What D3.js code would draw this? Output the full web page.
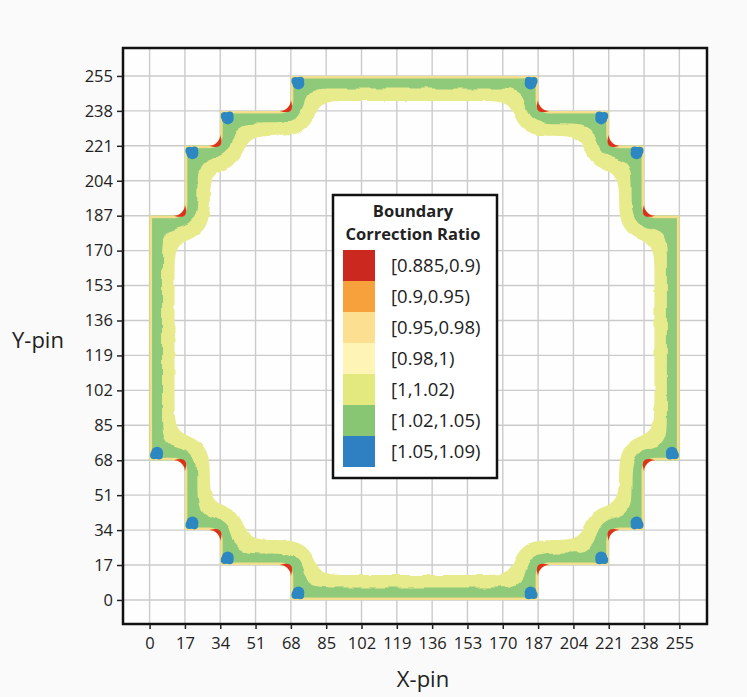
<!DOCTYPE html>
<html>
<head>
<meta charset="utf-8">
<title>Boundary Correction Ratio</title>
<style>
  body { margin: 0; background: #fafafa; font-family: "Open Sans", Arial, sans-serif; }
  svg text { fill: #222; }
</style>
</head>
<body>
<svg id="chart" width="747" height="697"></svg>
<script src="https://d3js.org/d3.v7.min.js"></script>
<script>
// tick values on both pin axes
const pinTicks = [0, 17, 34, 51, 68, 85, 102, 119, 136, 153, 170, 187, 204, 221, 238, 255];

// outer boundary of the pin array (x-pin, y-pin), walked clockwise from top-left
const outline = [
    [68, 255], [187, 255], [187, 238], [221, 238], [221, 221], [238, 221], [238, 187], [255, 187],
    [255, 68], [238, 68], [238, 34], [221, 34], [221, 17], [187, 17], [187, 0], [68, 0],
    [68, 17], [34, 17], [34, 34], [17, 34], [17, 68], [0, 68], [0, 187], [17, 187],
    [17, 221], [34, 221], [34, 238], [68, 238]
];

// corners with lowest ratio [0.885,0.9) (inner steps)
const lowCorners = [
    [17, 187], [34, 221], [68, 238], [187, 238], [221, 221], [238, 187],
    [238, 68], [221, 34], [187, 17], [68, 17], [34, 34], [17, 68]
];

// corners with highest ratio [1.05,1.09) (outer steps)
const highCorners = [
    [17, 221], [34, 238], [68, 255], [187, 255], [221, 238], [238, 221],
    [255, 68], [238, 34], [221, 17], [187, 0], [68, 0], [34, 17], [17, 34], [0, 68]
];

// depth of each band from the boundary, in pins
const greenDepth = 6;     // [1.02,1.05)
const yellowDepth = 12;   // [1,1.02)

const legendTitle = ['Boundary', 'Correction Ratio'];
const legendLabels = ['[0.885,0.9)', '[0.9,0.95)', '[0.95,0.98)', '[0.98,1)', '[1,1.02)', '[1.02,1.05)', '[1.05,1.09)'];
const legendColors = ['#cb2820', '#f6a13c', '#fddf92', '#fef4b6', '#e3e87f', '#88c674', '#2e80c2'];

const svg = d3.select('#chart');
const frame = { left: 123, top: 48, right: 707, bottom: 624 };

const x = d3.scaleLinear().domain([-12.8, 268.3]).range([frame.left, frame.right]);
const y = d3.scaleLinear().domain([-11.7, 268.6]).range([frame.bottom, frame.top]);
const pinPx = x(1) - x(0);

svg.append('rect')
    .attr('x', frame.left).attr('y', frame.top)
    .attr('width', frame.right - frame.left).attr('height', frame.bottom - frame.top)
    .attr('fill', '#fefefe');

// grid
svg.append('g').selectAll('line')
    .data(pinTicks).enter().append('line')
    .attr('x1', d => x(d)).attr('x2', d => x(d))
    .attr('y1', frame.top).attr('y2', frame.bottom)
    .attr('stroke', '#cbcbcb').attr('stroke-width', 1.4);
svg.append('g').selectAll('line')
    .data(pinTicks).enter().append('line')
    .attr('y1', d => y(d)).attr('y2', d => y(d))
    .attr('x1', frame.left).attr('x2', frame.right)
    .attr('stroke', '#cbcbcb').attr('stroke-width', 1.4);

// geometry helpers
const pts = outline.map(([a, b]) => [x(a), y(b)]);
const n = pts.length;
function unit(a, b) {
    const dx = b[0] - a[0], dy = b[1] - a[1], l = Math.hypot(dx, dy);
    return [dx / l, dy / l];
}
const corners = pts.map((p, i) => {
    const prev = pts[(i - 1 + n) % n], next = pts[(i + 1) % n];
    const e1 = unit(prev, p), e2 = unit(p, next);
    const cross = e1[0] * e2[1] - e1[1] * e2[0];
    return { p, e1, e2, nx: -e1[1] - e2[1], ny: e1[0] + e2[0], convex: cross > 0 };
});
function offsetVerts(d) {
    return corners.map(c => [c.p[0] + c.nx * d, c.p[1] + c.ny * d]);
}
function roundedRing(path, verts, radius) {
    const m = verts.length;
    const a = verts[m - 1], b = verts[0];
    path.moveTo((a[0] + b[0]) / 2, (a[1] + b[1]) / 2);
    verts.forEach((v, i) => {
        const nx = verts[(i + 1) % m];
        const r = radius(corners[i]);
        if (r > 0) path.arcTo(v[0], v[1], nx[0], nx[1], r);
        else path.lineTo(v[0], v[1]);
    });
    path.closePath();
    return path;
}

// signed distance to the boundary on a 1px grid, softened with a box blur,
// then the band edges are its contours
const gx0 = Math.floor(x(0)) - 14, gy0 = Math.floor(y(255)) - 14;
const gw = Math.ceil(x(255)) + 14 - gx0, gh = Math.ceil(y(0)) + 14 - gy0;
function segDist(px, py, a, b) {
    const dx = b[0] - a[0], dy = b[1] - a[1];
    let t = ((px - a[0]) * dx + (py - a[1]) * dy) / (dx * dx + dy * dy);
    t = Math.max(0, Math.min(1, t));
    return Math.hypot(px - a[0] - t * dx, py - a[1] - t * dy);
}
let field = new Float64Array(gw * gh);
for (let j = 0; j < gh; j++) {
    for (let i = 0; i < gw; i++) {
        const px = gx0 + i + 0.5, py = gy0 + j + 0.5;
        let d = Infinity;
        for (let k = 0; k < n; k++) d = Math.min(d, segDist(px, py, pts[k], pts[(k + 1) % n]));
        d = Math.min(d, 80);
        field[j * gw + i] = d3.polygonContains(pts, [px, py]) ? d : -d;
    }
}
function boxBlur(src, r, horizontal) {
    const out = new Float64Array(src.length);
    const len = horizontal ? gw : gh, lines = horizontal ? gh : gw;
    for (let l = 0; l < lines; l++) {
        const at = s => horizontal ? l * gw + s : s * gw + l;
        for (let s = 0; s < len; s++) {
            let sum = 0;
            for (let q = -r; q <= r; q++) sum += src[at(Math.max(0, Math.min(len - 1, s + q)))];
            out[at(s)] = sum / (2 * r + 1);
        }
    }
    return out;
}
for (let p = 0; p < 3; p++) {
    field = boxBlur(field, 9, true);
    field = boxBlur(field, 9, false);
}
const bandEdges = d3.contours().size([gw, gh])
    .thresholds([greenDepth * pinPx, yellowDepth * pinPx])(Array.from(field));
bandEdges.forEach(c => {
    c.coordinates = c.coordinates.map(poly => poly.map(ring => ring.map(([a, b]) => [a + gx0, b + gy0])));
});
const geo = d3.geoPath();

const filletR = 11;
const outerPath = roundedRing(d3.path(), pts, c => c.convex ? 0 : filletR).toString();

const defs = svg.append('defs');
defs.append('clipPath').attr('id', 'inside').append('path').attr('d', outerPath);
function wobble(id, freq, scale, seed) {
    const f = defs.append('filter').attr('id', id)
        .attr('x', '-5%').attr('y', '-5%').attr('width', '110%').attr('height', '110%');
    f.append('feTurbulence').attr('type', 'fractalNoise').attr('baseFrequency', freq)
        .attr('numOctaves', 1).attr('seed', seed).attr('result', 'noise');
    f.append('feDisplacementMap').attr('in', 'SourceGraphic').attr('in2', 'noise')
        .attr('scale', scale).attr('xChannelSelector', 'R').attr('yChannelSelector', 'G');
}
wobble('wobbleSoft', 0.1, 3, 4);
wobble('wobbleHard', 0.075, 7, 9);

const expandedOuter = roundedRing(d3.path(), offsetVerts(-10), () => 0).toString();

const shape = svg.append('g').attr('clip-path', 'url(#inside)');
shape.append('path')
    .attr('d', expandedOuter + geo(bandEdges[1]))
    .attr('fill', '#e8eb8b').attr('fill-rule', 'evenodd')
    .attr('filter', 'url(#wobbleSoft)');
shape.append('path')
    .attr('d', expandedOuter + geo(bandEdges[0]))
    .attr('fill', '#8fc97a').attr('fill-rule', 'evenodd')
    .attr('filter', 'url(#wobbleHard)');
shape.append('path')
    .attr('d', outerPath)
    .attr('fill', 'none').attr('stroke', '#f3de8c').attr('stroke-width', 5);

function findCorner(pin) {
    return corners[outline.findIndex(v => v[0] === pin[0] && v[1] === pin[1])];
}

// low ratio crescents on the inner steps
svg.append('g').selectAll('path')
    .data(lowCorners).enter().append('path')
    .attr('d', pin => {
        const c = findCorner(pin);
        const a = [c.p[0] - c.e1[0] * filletR, c.p[1] - c.e1[1] * filletR];
        const b = [c.p[0] + c.e2[0] * filletR, c.p[1] + c.e2[1] * filletR];
        const p = d3.path();
        p.moveTo(a[0], a[1]);
        p.arcTo(c.p[0], c.p[1], b[0], b[1], filletR);
        p.quadraticCurveTo(c.p[0] + c.nx * 5, c.p[1] + c.ny * 5, a[0], a[1]);
        p.closePath();
        return p.toString();
    })
    .attr('fill', '#e0301c');

// high ratio blobs on the outer steps
const blobs = svg.append('g').attr('fill', '#2d88c1').attr('clip-path', 'url(#inside)');
highCorners.forEach(pin => {
    const c = findCorner(pin);
    [[7.5, 7.5, 6], [4.5, 5, 4], [9.5, 4.5, 3.8]].forEach(([ox, oy, r]) => {
        blobs.append('circle')
            .attr('cx', c.p[0] + c.nx * ox)
            .attr('cy', c.p[1] + c.ny * oy)
            .attr('r', r);
    });
});

// frame and axes
svg.append('rect')
    .attr('x', frame.left).attr('y', frame.top)
    .attr('width', frame.right - frame.left).attr('height', frame.bottom - frame.top)
    .attr('fill', 'none').attr('stroke', '#111').attr('stroke-width', 2.5);

const xAxis = svg.append('g')
    .attr('transform', `translate(0,${frame.bottom})`)
    .call(d3.axisBottom(x).tickValues(pinTicks).tickSize(5).tickPadding(8));
const yAxis = svg.append('g')
    .attr('transform', `translate(${frame.left},0)`)
    .call(d3.axisLeft(y).tickValues(pinTicks).tickSize(6).tickPadding(4));
[xAxis, yAxis].forEach(g => {
    g.select('.domain').remove();
    g.selectAll('line').attr('stroke', '#222').attr('stroke-width', 1.5);
    g.selectAll('text').attr('font-size', 16.5).attr('font-family', '"Open Sans", Arial, sans-serif').attr('fill', '#222');
});

svg.append('text').text('Y-pin')
    .attr('x', 12).attr('y', 348)
    .attr('font-size', 22);
svg.append('text').text('X-pin')
    .attr('x', 423).attr('y', 687).attr('text-anchor', 'middle')
    .attr('font-size', 22);

// legend
const legend = svg.append('g');
legend.append('rect')
    .attr('x', 333).attr('y', 195).attr('width', 164).attr('height', 283)
    .attr('fill', '#fff').attr('stroke', '#111').attr('stroke-width', 2.5);
legend.selectAll('text.title')
    .data(legendTitle).enter().append('text')
    .attr('class', 'title')
    .text(d => d)
    .attr('x', 413).attr('y', (d, i) => 217 + i * 22.5)
    .attr('text-anchor', 'middle')
    .attr('font-size', 16.5).attr('font-weight', 'bold');
legend.selectAll('rect.swatch')
    .data(legendColors).enter().append('rect')
    .attr('class', 'swatch')
    .attr('x', 343).attr('y', (d, i) => 250 + i * 31)
    .attr('width', 32).attr('height', 31)
    .attr('fill', d => d);
legend.selectAll('text.label')
    .data(legendLabels).enter().append('text')
    .attr('class', 'label')
    .text(d => d)
    .attr('x', 391).attr('y', (d, i) => 250 + i * 31 + 15.5)
    .attr('dy', '0.35em')
    .attr('font-size', 18.5);
</script>
</body>
</html>
